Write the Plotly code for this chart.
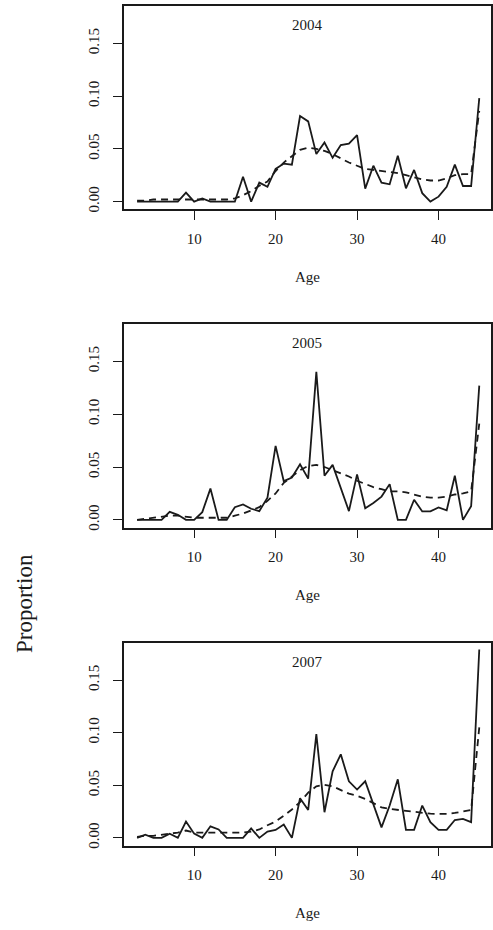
import plotly.graph_objects as go

ages = list(range(3, 46))

obs_2004 = [0, 0, 0, 0, 0, 0, 0.0085, 0, 0.003, 0, 0, 0, 0, 0.0236, 0, 0.018, 0.014,
            0.031, 0.036, 0.035, 0.081, 0.076, 0.045, 0.056, 0.0415, 0.0535, 0.055, 0.063,
            0.0123, 0.034, 0.018, 0.0164, 0.0434, 0.0126, 0.030, 0.008, 0, 0.0047, 0.014,
            0.035, 0.0148, 0.0148, 0.098]
fit_2004 = [0.001, 0.001, 0.002, 0.002, 0.002, 0.002, 0.002, 0.002, 0.002, 0.002, 0.002,
            0.002, 0.003, 0.006, 0.010, 0.015, 0.019, 0.029, 0.037, 0.043, 0.049, 0.051,
            0.050, 0.048, 0.045, 0.041, 0.037, 0.034, 0.031, 0.030, 0.029, 0.028, 0.027,
            0.025, 0.023, 0.021, 0.020, 0.020, 0.022, 0.025, 0.026, 0.026, 0.086]

obs_2005 = [0, 0, 0, 0, 0.0076, 0.0048, 0, 0, 0.0073, 0.0296, 0, 0, 0.012, 0.0146, 0.0105,
            0.0083, 0.021, 0.070, 0.0366, 0.040, 0.0525, 0.039, 0.140, 0.0417, 0.052, 0.031,
            0.0083, 0.043, 0.011, 0.016, 0.022, 0.0338, 0, 0, 0.019, 0.008, 0.008, 0.0118,
            0.009, 0.0417, 0, 0.013, 0.127]
fit_2005 = [0.000, 0.001, 0.002, 0.003, 0.004, 0.004, 0.003, 0.002, 0.002, 0.002, 0.002,
            0.002, 0.004, 0.006, 0.009, 0.012, 0.018, 0.025, 0.035, 0.041, 0.047, 0.051,
            0.052, 0.050, 0.047, 0.044, 0.041, 0.037, 0.034, 0.031, 0.029, 0.027, 0.027,
            0.026, 0.024, 0.022, 0.021, 0.021, 0.022, 0.024, 0.025, 0.027, 0.091]

obs_2007 = [0, 0.003, 0, 0, 0.004, 0, 0.0155, 0.004, 0, 0.011, 0.008, 0, 0, 0, 0.009, 0,
            0.006, 0.0076, 0.0127, 0, 0.0377, 0.0266, 0.0987, 0.0244, 0.0633, 0.0794, 0.0538,
            0.0459, 0.0538, 0.0323, 0.010, 0.0307, 0.0557, 0.0076, 0.0076, 0.0307, 0.0149,
            0.0076, 0.0076, 0.017, 0.018, 0.015, 0.179]
fit_2007 = [0.001, 0.002, 0.002, 0.003, 0.004, 0.005, 0.007, 0.005, 0.005, 0.005, 0.005,
            0.005, 0.005, 0.005, 0.006, 0.008, 0.012, 0.0155, 0.021, 0.027, 0.034, 0.043,
            0.049, 0.0505, 0.049, 0.0456, 0.042, 0.040, 0.037, 0.033, 0.029, 0.0275, 0.0266,
            0.0256, 0.025, 0.024, 0.023, 0.0228, 0.0228, 0.0237, 0.025, 0.0266, 0.105]

years = ["2004", "2005", "2007"]
observed = [obs_2004, obs_2005, obs_2007]
fitted = [fit_2004, fit_2005, fit_2007]

x_ticks = [10, 20, 30, 40]
y_ticks = [0, 0.05, 0.10, 0.15]
y_tick_text = ["0.00", "0.05", "0.10", "0.15"]

W, H = 493, 930
FONT = "Liberation Serif"
INK = "#1a1a1a"

# panel boxes in pixels (top, bottom)
panels_px = [(6, 210), (325, 529.3), (645, 848.3)]
x_left_px, x_right_px = 124, 492

fig = go.Figure()
layout = dict(
    width=W, height=H, margin=dict(l=0, r=0, t=0, b=0),
    paper_bgcolor="white", plot_bgcolor="white", showlegend=False,
    font=dict(family=FONT, size=15, color=INK),
)
annotations = []
for i, (yr, obs, fit) in enumerate(zip(years, observed, fitted)):
    n = "" if i == 0 else str(i + 1)
    xa, ya = "x" + n, "y" + n
    fig.add_trace(go.Scatter(x=ages, y=fit, mode="lines", xaxis=xa, yaxis=ya,
                             line=dict(color=INK, width=1.8, dash="7px,5px")))
    fig.add_trace(go.Scatter(x=ages, y=obs, mode="lines", xaxis=xa, yaxis=ya,
                             line=dict(color=INK, width=1.8)))
    top, bot = panels_px[i]
    layout["xaxis" + n] = dict(
        domain=[x_left_px / W, x_right_px / W], range=[1.36, 46.44],
        anchor=ya, tickvals=x_ticks, ticks="outside", ticklen=9, tickwidth=1.4,
        tickcolor=INK, showline=True, linecolor=INK, linewidth=1.5, mirror=True,
        showgrid=False, zeroline=False, ticklabelstandoff=6,
        tickfont=dict(family=FONT, size=15, color=INK),
    )
    layout["yaxis" + n] = dict(
        domain=[1 - bot / H, 1 - top / H], range=[-0.0073, 0.1853],
        anchor=xa, tickvals=y_ticks, ticktext=y_tick_text, tickangle=-90,
        ticks="outside", ticklen=9, tickwidth=1.4, tickcolor=INK,
        showline=True, linecolor=INK, linewidth=1.5, mirror=True,
        showgrid=False, zeroline=False, ticklabelstandoff=8,
        tickfont=dict(family=FONT, size=15, color=INK),
    )
    annotations.append(dict(text=yr, xref="paper", yref="paper", x=308 / W,
                            y=1 - (top + 19) / H, showarrow=False,
                            font=dict(family=FONT, size=15, color=INK),
                            xanchor="center", yanchor="middle"))
    annotations.append(dict(text="Age", xref="paper", yref="paper", x=308 / W,
                            y=1 - (bot + 68) / H, showarrow=False,
                            font=dict(family=FONT, size=15, color=INK),
                            xanchor="center", yanchor="middle"))

annotations.append(dict(text="Proportion", xref="paper", yref="paper", x=24 / W,
                        y=1 - 605 / H, showarrow=False, textangle=-90,
                        font=dict(family=FONT, size=23, color=INK),
                        xanchor="center", yanchor="middle"))
layout["annotations"] = annotations
fig.update_layout(**layout)
fig.write_html("out.html")
